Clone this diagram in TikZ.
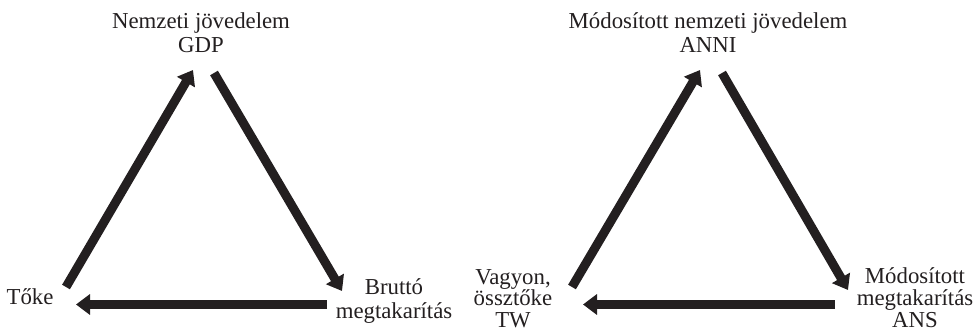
\documentclass[tikz,border=0pt]{standalone}
\usepackage{fontspec}
\setmainfont{Liberation Serif}
\usetikzlibrary{arrows.meta}
\definecolor{ink}{HTML}{231F20}
\begin{document}
\begin{tikzpicture}[x=1pt,y=1pt,
  lbl/.style={inner sep=0pt, align=center, text=ink, font=\fontsize{22.8}{24.5}\selectfont},
  flow/.style={draw=ink, line width=9pt, -{Triangle[length=14pt,width=20pt]}}]
\useasboundingbox (0,0) rectangle (977,328);
% left diagram
\node[lbl, anchor=north] (gdp) at (201,316) {Nemzeti jövedelem\\GDP};
\node[lbl, anchor=base] (toke) at (30,23) {Tőke};
\node[lbl, anchor=north] (brutto) at (394,50) {Bruttó\\megtakarítás};
\coordinate (l1s) at (66,41);
\coordinate (l1e) at (193,258);
\coordinate (l2s) at (214,255);
\coordinate (l2e) at (342,37);
\coordinate (l3s) at (327,23.5);
\coordinate (l3e) at (76,23.5);
\draw[flow] (l1s) -- (l1e);
\draw[flow] (l2s) -- (l2e);
\draw[flow] (l3s) -- (l3e);
% right diagram
\node[lbl, anchor=north] (anni) at (708,316) {Módosított nemzeti jövedelem\\ANNI};
\node[lbl, anchor=north, font=\fontsize{22.8}{21.5}\selectfont] (tw) at (513,59) {Vagyon,\\össztőke\\TW};
\node[lbl, anchor=north, font=\fontsize{22.8}{22}\selectfont] (ans) at (915,61) {Módosított\\megtakarítás\\ANS};
\coordinate (r1s) at (572,41);
\coordinate (r1e) at (700,258);
\coordinate (r2s) at (722,255);
\coordinate (r2e) at (848,38);
\coordinate (r3s) at (835,23.5);
\coordinate (r3e) at (583,23.5);
\draw[flow] (r1s) -- (r1e);
\draw[flow] (r2s) -- (r2e);
\draw[flow] (r3s) -- (r3e);
\end{tikzpicture}
\end{document}
